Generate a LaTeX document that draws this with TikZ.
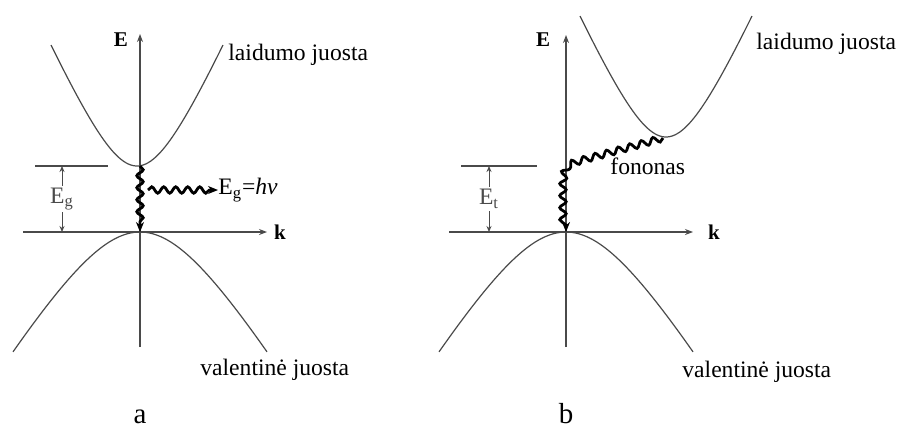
\documentclass[tikz,border=0pt]{standalone}
\usepackage{fontspec}
\setmainfont{Liberation Serif}
\usetikzlibrary{arrows.meta, positioning, decorations.pathmorphing}
\definecolor{lineg}{HTML}{4A4A4A}

\begin{document}
\begin{tikzpicture}[x=0.5pt, y=-0.5pt,
    axis/.style={draw=lineg, line width=0.6pt, -{Stealth[length=4pt, width=3pt]}},
    band/.style={draw=lineg, line width=0.6pt},
    wave/.style={line width=1.4pt, decorate, decoration={snake, amplitude=1.6pt, segment length=6pt, post length=3pt}, -{Stealth[length=5pt, width=4pt]}},
    gaparrow/.style={draw=lineg, line width=0.5pt, {Stealth[length=3pt, width=2.5pt]}-{Stealth[length=3pt, width=2.5pt]}},
    lbl/.style={font=\fontsize{11.8}{14}\selectfont, inner sep=0pt},
    axlbl/.style={font=\fontsize{10.5}{12}\selectfont\bfseries, inner sep=0pt},
    panel/.style={font=\fontsize{14.5}{17}\selectfont, inner sep=0pt, anchor=base}]
    \useasboundingbox (0,0) rectangle (898,429);

    % a: tiesioginis tarpas
    \coordinate (aO) at (140,232);
    \coordinate (aEtop) at (140,34);
    \coordinate (aEbot) at (140,347);
    \coordinate (akl) at (23,232);
    \coordinate (akr) at (267,232);
    \draw[axis] (aEbot) -- (aEtop);
    \draw[axis] (akl) -- (akr);
    \node[axlbl] (aE) at (121,40) {E};
    \node[axlbl] (ak) at (280,232) {k};

    \draw[band] plot[domain=-86:86, samples=70] ({137+\x}, {166-94.6*(sqrt(1+(\x/42)^2)-1)});
    \draw[band] plot[domain=-127:127, samples=70] ({140+\x}, {232+124*(sqrt(1+(\x/75)^2)-1)});

    \draw[band] (35,166) -- (108,166);
    \coordinate (aGt) at (62,166);
    \coordinate (aGb) at (62,232);
    \draw[gaparrow] (aGt) -- node[lbl, fill=white, inner sep=1pt, text=lineg] (aEg) {E\textsubscript{g}} (aGb);

    \coordinate (aCmin) at (140,166);
    \draw[wave] (aCmin) -- (aO);
    \coordinate (aPh) at (148,190);
    \node[lbl, anchor=west] (aEhv) at (218,190) {E\textsubscript{g}=\textit{hν}};
    \draw[wave] (aPh) -- (aEhv.west);

    \node[lbl, anchor=west] (aCB) at (228,55) {laidumo juosta};
    \node[lbl, anchor=west] (aVB) at (200,370) {valentinė juosta};
    \node[panel] (aLab) at (140,423) {a};

    % b: netiesioginis tarpas
    \coordinate (bO) at (566,232);
    \coordinate (bEtop) at (566,35);
    \coordinate (bEbot) at (566,347);
    \coordinate (bkl) at (449,232);
    \coordinate (bkr) at (693,232);
    \draw[axis] (bEbot) -- (bEtop);
    \draw[axis] (bkl) -- (bkr);
    \node[axlbl] (bE) at (543,40) {E};
    \node[axlbl] (bk) at (714,232) {k};

    \draw[band] plot[domain=-86:86, samples=70] ({666+\x}, {137-94.6*(sqrt(1+(\x/42)^2)-1)});
    \draw[band] plot[domain=-127:127, samples=70] ({566+\x}, {232+124*(sqrt(1+(\x/75)^2)-1)});

    \draw[band] (461,166) -- (537,166);
    \coordinate (bGt) at (489,166);
    \coordinate (bGb) at (489,232);
    \draw[gaparrow] (bGt) -- node[lbl, fill=white, inner sep=1pt, text=lineg] (bEt) {E\textsubscript{t}} (bGb);

    \coordinate (bCmin) at (663,138);
    \draw[wave] (bCmin) -- (590,158) .. controls (568,164) .. (566,185) -- (bO);

    \node[lbl, anchor=west] (bFon) at (610,166) {fononas};
    \node[lbl, anchor=west] (bCB) at (756,44) {laidumo juosta};
    \node[lbl, anchor=west] (bVB) at (682,372) {valentinė juosta};
    \node[panel] (bLab) at (566,423) {b};
\end{tikzpicture}
\end{document}
